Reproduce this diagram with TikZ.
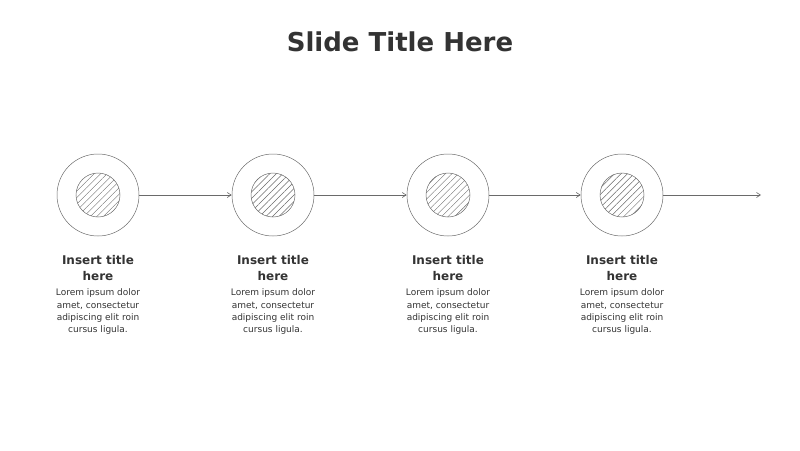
\documentclass[tikz,border=0pt]{standalone}
\usepackage{fontspec}
\setmainfont{DejaVu Sans}
\usetikzlibrary{positioning,patterns.meta,arrows.meta}
\definecolor{inkgray}{HTML}{333333}
\definecolor{linegray}{HTML}{6A6A6A}

\begin{document}
\begin{tikzpicture}[
x=1pt,y=-1pt,
outer/.style={draw=linegray,circle,minimum size=82pt,inner sep=0pt,line width=0.5pt},
inner/.style={draw=linegray,circle,minimum size=44pt,inner sep=0pt,line width=0.5pt,pattern={Lines[angle=45,distance=4.6pt,line width=0.45pt]},pattern color=linegray},
steptitle/.style={text=inkgray,align=center,font=\bfseries\fontsize{12}{16}\selectfont,inner sep=0pt},
stepbody/.style={text=inkgray,align=center,font=\fontsize{9}{12.4}\selectfont,inner sep=0pt},
link/.style={draw=linegray,line width=0.6pt,-{Straight Barb[length=4pt,width=5pt]}},
]
\useasboundingbox (0,0) rectangle (800,450);

\node[text=inkgray,font=\bfseries\fontsize{26}{30}\selectfont] (title) at (400,42) {Slide Title Here};

% steps
\node[outer] (c1) at (98,195) {};
\node[outer] (c2) at (273,195) {};
\node[outer] (c3) at (448,195) {};
\node[outer] (c4) at (622,195) {};

\node[inner] (i1) at (c1) {};
\node[inner] (i2) at (c2) {};
\node[inner] (i3) at (c3) {};
\node[inner] (i4) at (c4) {};

\coordinate (end) at (761,195);

\draw[link] (c1) -- (c2);
\draw[link] (c2) -- (c3);
\draw[link] (c3) -- (c4);
\draw[link] (c4) -- (end);

% labels
\node[steptitle,below=60pt of c1.center] (t1) {Insert title\\here};
\node[steptitle,below=60pt of c2.center] (t2) {Insert title\\here};
\node[steptitle,below=60pt of c3.center] (t3) {Insert title\\here};
\node[steptitle,below=60pt of c4.center] (t4) {Insert title\\here};

\node[stepbody,below=8pt of t1] (b1) {Lorem ipsum dolor\\amet, consectetur\\adipiscing elit roin\\cursus ligula.};
\node[stepbody,below=8pt of t2] (b2) {Lorem ipsum dolor\\amet, consectetur\\adipiscing elit roin\\cursus ligula.};
\node[stepbody,below=8pt of t3] (b3) {Lorem ipsum dolor\\amet, consectetur\\adipiscing elit roin\\cursus ligula.};
\node[stepbody,below=8pt of t4] (b4) {Lorem ipsum dolor\\amet, consectetur\\adipiscing elit roin\\cursus ligula.};

\end{tikzpicture}
\end{document}
